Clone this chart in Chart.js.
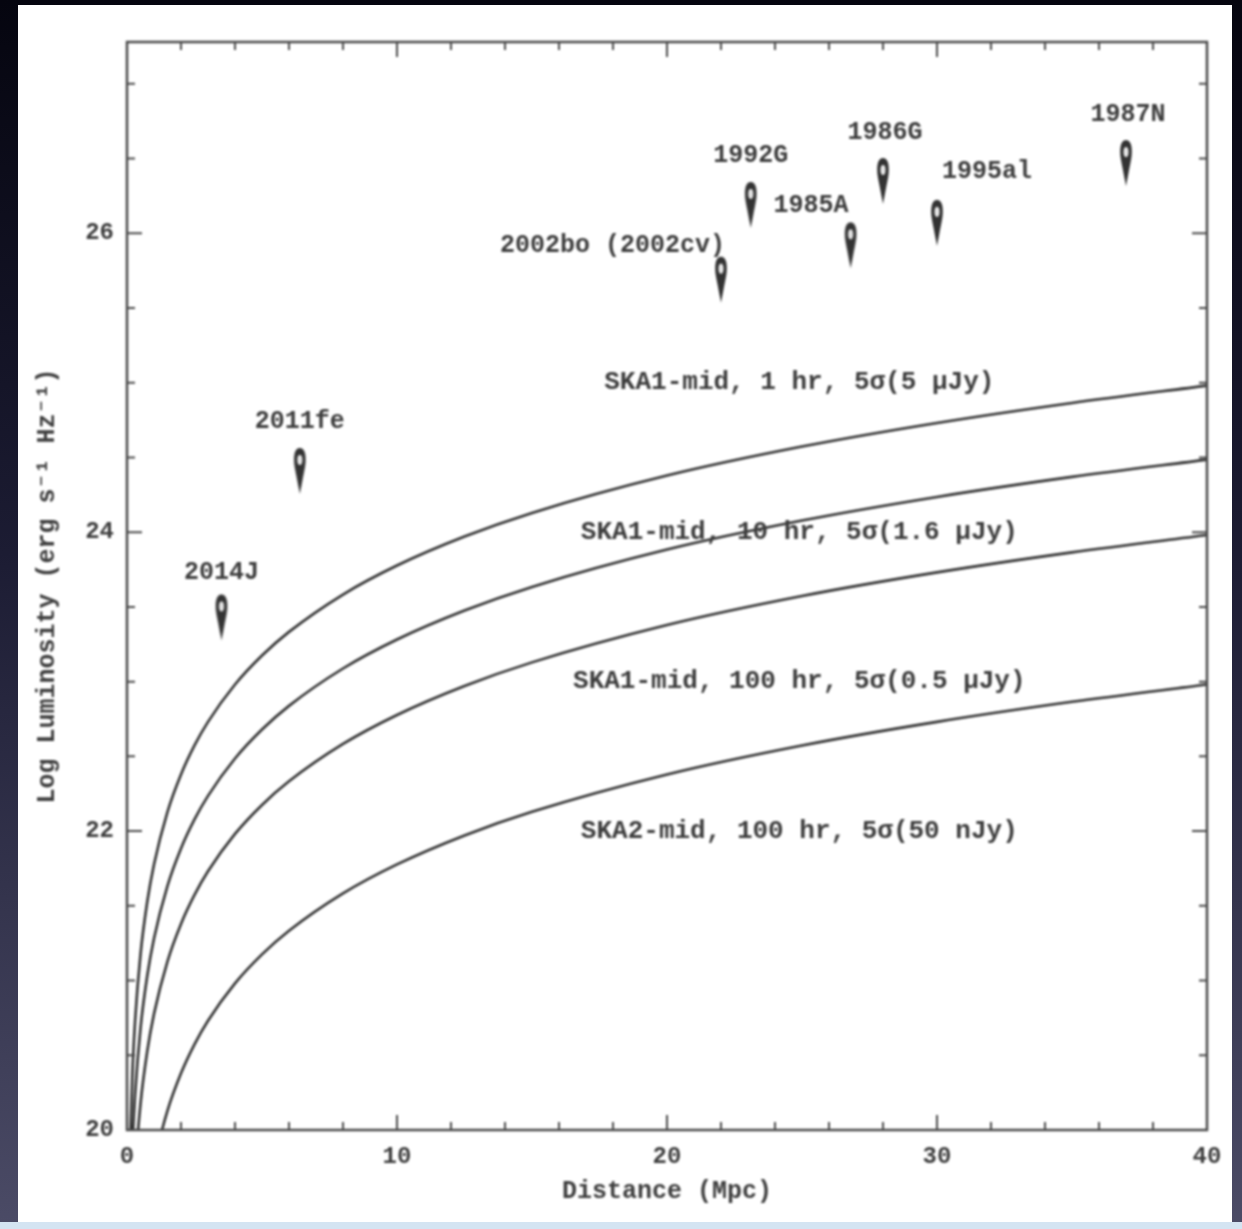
<!DOCTYPE html>
<html>
<head>
<meta charset="utf-8">
<script src="https://cdn.jsdelivr.net/npm/chart.js@4.4.0/dist/chart.umd.min.js"></script>
<style>
  html, body { margin: 0; padding: 0; overflow: hidden; }
  body { width: 1242px; height: 1229px; position: relative;
         background: linear-gradient(180deg, #05050f 0%, #1c1c33 45%, #4b4b66 100%); }
  #panel { position: absolute; left: 18px; top: 5px; width: 1214px; height: 1217px; background: #fff; }
  #strip { position: absolute; left: 0; top: 1222px; width: 1242px; height: 7px; background: #d4e4f2; }
  #c { position: absolute; left: 0; top: 0; filter: blur(0.8px); }
</style>
</head>
<body>
<div id="panel"></div>
<div id="strip"></div>
<canvas id="c" width="1242" height="1229"></canvas>
<script>
// distance in Mpc, luminosity as log10(erg s^-1 Hz^-1)
const distance   = [0.1, 0.2, 0.3, 0.5, 0.75, 1, 1.5, 2, 2.5, 3, 4, 5, 6, 8, 10, 12.5, 15, 20, 25, 30, 35, 40];
const ska1_1hr   = [19.777, 20.379, 20.731, 21.175, 21.527, 21.777, 22.129, 22.379, 22.573, 22.731, 22.981, 23.175, 23.333, 23.583, 23.777, 23.971, 24.129, 24.379, 24.573, 24.731, 24.865, 24.981];
const ska1_10hr  = [19.282, 19.884, 20.236, 20.680, 21.032, 21.282, 21.634, 21.884, 22.078, 22.236, 22.486, 22.680, 22.838, 23.088, 23.282, 23.476, 23.634, 23.884, 24.078, 24.236, 24.370, 24.486];
const ska1_100hr = [18.777, 19.379, 19.731, 20.175, 20.527, 20.777, 21.129, 21.379, 21.573, 21.731, 21.981, 22.175, 22.333, 22.583, 22.777, 22.971, 23.129, 23.379, 23.573, 23.731, 23.865, 23.981];
const ska2_100hr = [17.777, 18.379, 18.731, 19.175, 19.527, 19.777, 20.129, 20.379, 20.573, 20.731, 20.981, 21.175, 21.333, 21.583, 21.777, 21.971, 22.129, 22.379, 22.573, 22.731, 22.865, 22.981];
const curveNames = ["SKA1-mid, 1 hr, 5σ(5 μJy)", "SKA1-mid, 10 hr, 5σ(1.6 μJy)",
                    "SKA1-mid, 100 hr, 5σ(0.5 μJy)", "SKA2-mid, 100 hr, 5σ(50 nJy)"];

// supernova upper limits
const snNames    = ["2014J", "2011fe", "2002bo (2002cv)", "1992G", "1985A", "1986G", "1995al", "1987N"];
const snDistance = [3.5, 6.4, 22.0, 23.1, 26.8, 28.0, 30.0, 37.0];
const snLimit    = [23.43, 24.41, 25.69, 26.19, 25.92, 26.35, 26.07, 26.47];

const xTicks = [0, 10, 20, 30, 40];
const yTicks = [20, 22, 24, 26];

// label placement (layout only)
const curveLabelPos = [[24.9, 25.0], [24.9, 24.0], [24.9, 23.0], [24.9, 22.0]];
const snLabelOffset = [[0, -45, 'center'], [0, -49, 'center'], [4, -34, 'right'], [0, -49, 'center'],
                       [-2, -40, 'right'], [2, -48, 'center'], [5, -51, 'left'], [2, -48, 'center']];

const ink = '#3d3d3d';
const fontFamily = "'Liberation Mono', 'DejaVu Sans Mono', monospace";

function makeArrow() {
  const c = document.createElement('canvas');
  c.width = 16; c.height = 50;
  const g = c.getContext('2d');
  g.fillStyle = '#333';
  g.beginPath();
  g.moveTo(8, 2);
  g.bezierCurveTo(14.5, 2, 14.5, 14, 13, 22);
  g.lineTo(8, 48);
  g.lineTo(3, 22);
  g.bezierCurveTo(1.5, 14, 1.5, 2, 8, 2);
  g.fill();
  g.fillStyle = '#e8e8e8';
  g.beginPath();
  g.ellipse(8, 14, 2.5, 5, 0, 0, Math.PI * 2);
  g.fill();
  return c;
}

function curve(values) {
  return {
    data: distance.map((d, i) => ({x: d, y: values[i]})),
    borderColor: '#333',
    borderWidth: 2.6,
    pointRadius: 0,
    fill: false,
    cubicInterpolationMode: 'monotone'
  };
}

const annotate = {
  id: 'annotate',
  afterDraw(chart) {
    const {ctx, chartArea: a, scales: {x, y}} = chart;
    ctx.save();
    ctx.strokeStyle = '#4a4a4a';
    ctx.lineWidth = 2.5;
    ctx.strokeRect(a.left, a.top, a.right - a.left, a.bottom - a.top);

    ctx.lineWidth = 2;
    ctx.beginPath();
    for (let i = 0; i <= 20; i++) {
      const v = i * 2;
      const px = x.getPixelForValue(v);
      const len = xTicks.includes(v) ? 15 : 8;
      ctx.moveTo(px, a.bottom); ctx.lineTo(px, a.bottom - len);
      ctx.moveTo(px, a.top); ctx.lineTo(px, a.top + len);
    }
    for (let i = 0; i <= 14; i++) {
      const v = 20 + i * 0.5;
      const py = y.getPixelForValue(v);
      const len = yTicks.includes(v) ? 15 : 8;
      ctx.moveTo(a.left, py); ctx.lineTo(a.left + len, py);
      ctx.moveTo(a.right, py); ctx.lineTo(a.right - len, py);
    }
    ctx.stroke();

    ctx.fillStyle = ink;
    ctx.font = 'bold 26px ' + fontFamily;
    ctx.textBaseline = 'middle';
    ctx.textAlign = 'center';
    curveNames.forEach((t, i) => {
      ctx.fillText(t, x.getPixelForValue(curveLabelPos[i][0]), y.getPixelForValue(curveLabelPos[i][1]));
    });
    ctx.font = 'bold 25px ' + fontFamily;
    snNames.forEach((t, i) => {
      const [dx, dy, al] = snLabelOffset[i];
      ctx.textAlign = al;
      ctx.fillText(t, x.getPixelForValue(snDistance[i]) + dx, y.getPixelForValue(snLimit[i]) + dy);
    });
    ctx.restore();
  }
};

const axisFont = {family: fontFamily, size: 24, weight: 'bold'};
const titleFont = {family: fontFamily, size: 25, weight: 'bold'};

new Chart(document.getElementById('c'), {
  type: 'line',
  data: {
    datasets: [
      curve(ska1_1hr),
      curve(ska1_10hr),
      curve(ska1_100hr),
      curve(ska2_100hr),
      {
        data: snDistance.map((d, i) => ({x: d, y: snLimit[i]})),
        showLine: false,
        pointStyle: makeArrow(),
        pointRadius: 10
      }
    ]
  },
  options: {
    responsive: false,
    animation: false,
    layout: {padding: {left: 20, right: 35, top: 42, bottom: 0}},
    plugins: {legend: {display: false}, tooltip: {enabled: false}},
    scales: {
      x: {
        type: 'linear', min: 0, max: 40,
        afterBuildTicks: s => { s.ticks = xTicks.map(v => ({value: v})); },
        afterFit: s => { s.height = 99; },
        grid: {display: false, drawTicks: false},
        border: {display: false},
        ticks: {padding: 13, color: ink, font: axisFont, maxRotation: 0, autoSkip: false},
        title: {display: true, text: 'Distance (Mpc)', color: ink, font: titleFont, padding: {top: 0, bottom: 22}}
      },
      y: {
        type: 'linear', min: 20, max: 27.28,
        afterBuildTicks: s => { s.ticks = yTicks.map(v => ({value: v})); },
        afterFit: s => { s.width = 107; },
        grid: {display: false, drawTicks: false},
        border: {display: false},
        ticks: {padding: 13, color: ink, font: axisFont},
        title: {display: true, text: 'Log Luminosity (erg s⁻¹ Hz⁻¹)', color: ink, font: titleFont, padding: {top: 13, bottom: 0}}
      }
    }
  },
  plugins: [annotate]
});
</script>
</body>
</html>
